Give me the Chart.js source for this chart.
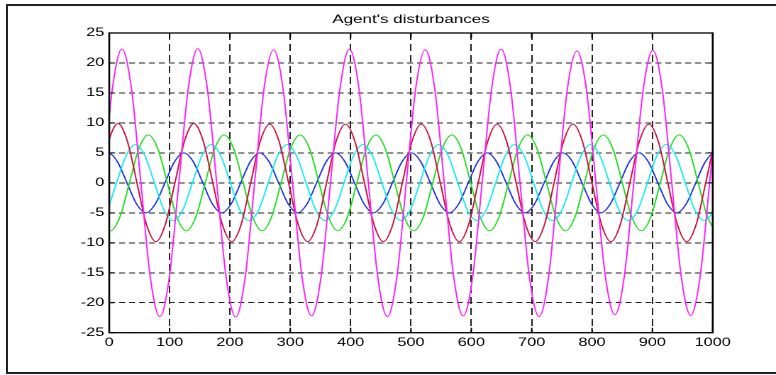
<!DOCTYPE html>
<html>
<head>
<meta charset="utf-8">
<script src="https://cdn.jsdelivr.net/npm/chart.js@4/dist/chart.umd.min.js"></script>
<style>
  html, body { margin: 0; padding: 0; background: #fff; width: 776px; height: 375px; overflow: hidden; }
  #frame { position: absolute; left: 6px; top: 4px; width: 800px; height: 370px; box-sizing: border-box; border: 2px solid #222; border-right: none; }
  #wrap { position: absolute; left: 0; top: 0; width: 547px; height: 375px; transform: scaleX(1.4186); transform-origin: 0 0; }
</style>
</head>
<body>
<div id="frame"></div>
<div id="wrap"><canvas id="chart" width="547" height="375"></canvas></div>
<script>
// points, about 1/8 of a period apart
const magentaX = [-26.1, -10.4, 5.3, 21.0, 36.7, 52.4, 68.1, 83.8, 99.5, 115.3, 131.0, 146.7, 162.4, 178.1, 193.8, 209.5, 225.2, 240.9, 256.6, 272.3, 288.0, 303.7, 319.5, 335.2, 350.9, 366.6, 382.3, 398.0, 413.7, 429.4, 445.1, 460.8, 476.5, 492.2, 507.9, 523.7, 539.4, 555.1, 570.8, 586.5, 602.2, 617.9, 633.6, 649.3, 665.0, 680.7, 696.4, 712.2, 727.9, 743.6, 759.3, 775.0, 790.7, 806.4, 822.1, 837.8, 853.5, 869.2, 884.9, 900.7, 916.4, 932.1, 947.8, 963.5, 979.2, 994.9, 1010.6, 1026.3];
const magentaY = [-15.8, 0, 15.8,
  22.3, 15.8, 0, -15.8, -22.3, -15.8, 0, 15.8,
  22.4, 15.8, 0, -15.8, -22.4, -15.8, 0, 15.8,
  22.2, 15.7, 0, -15.7, -22.2, -15.7, 0, 15.7,
  22.3, 15.8, 0, -15.8, -22.3, -15.8, 0, 15.8,
  22.2, 15.7, 0, -15.7, -22.2, -15.7, 0, 15.7,
  22.3, 15.8, 0, -15.8, -22.3, -15.8, 0, 15.8,
  22.0, 15.6, 0, -15.6, -22.0, -15.6, 0, 15.6,
  22.1, 15.6, 0, -15.6, -22.1, -15.6, 0, 15.6,
  22.3];

const redX = [-16.9, -1.2, 14.5, 30.2, 45.9, 61.6, 77.3, 93.0, 108.8, 124.5, 140.2, 155.9, 171.6, 187.3, 203.0, 218.7, 234.4, 250.1, 265.8, 281.5, 297.2, 313.0, 328.7, 344.4, 360.1, 375.8, 391.5, 407.2, 422.9, 438.6, 454.3, 470.0, 485.7, 501.5, 517.2, 532.9, 548.6, 564.3, 580.0, 595.7, 611.4, 627.1, 642.8, 658.5, 674.2, 689.9, 705.7, 721.4, 737.1, 752.8, 768.5, 784.2, 799.9, 815.6, 831.3, 847.0, 862.7, 878.4, 894.2, 909.9, 925.6, 941.3, 957.0, 972.7, 988.4, 1004.1, 1019.8];
const redY = [0, 6.9,
  9.9, 6.9, 0, -6.9, -9.8, -6.9, 0, 6.9,
  9.9, 6.9, 0, -6.9, -9.8, -6.9, 0, 6.9,
  9.8, 6.9, 0, -6.9, -9.8, -6.9, 0, 6.9,
  9.8, 6.9, 0, -6.9, -9.8, -6.9, 0, 6.9,
  9.8, 6.9, 0, -6.9, -9.8, -6.9, 0, 6.9,
  9.8, 6.9, 0, -6.9, -9.8, -6.9, 0, 6.9,
  9.8, 6.9, 0, -6.9, -9.8, -6.9, 0, 6.9,
  9.8, 6.9, 0, -6.9, -9.8, -6.9, 0, 6.9,
  9.8];

const greenX = [-29.4, -13.7, 2.0, 17.7, 33.4, 49.1, 64.8, 80.5, 96.3, 112.0, 127.7, 143.4, 159.1, 174.8, 190.5, 206.2, 221.9, 237.6, 253.3, 269.0, 284.7, 300.5, 316.2, 331.9, 347.6, 363.3, 379.0, 394.7, 410.4, 426.1, 441.8, 457.5, 473.2, 489.0, 504.7, 520.4, 536.1, 551.8, 567.5, 583.2, 598.9, 614.6, 630.3, 646.0, 661.7, 677.4, 693.2, 708.9, 724.6, 740.3, 756.0, 771.7, 787.4, 803.1, 818.8, 834.5, 850.2, 865.9, 881.7, 897.4, 913.1, 928.8, 944.5, 960.2, 975.9, 991.6, 1007.3, 1023.0];
const greenY = [0, -5.7,
  -8.0, -5.7, 0, 5.7, 8.0, 5.7, 0, -5.7,
  -8.0, -5.7, 0, 5.7, 8.0, 5.7, 0, -5.7,
  -8.0, -5.7, 0, 5.7, 8.0, 5.7, 0, -5.7,
  -8.0, -5.7, 0, 5.7, 8.0, 5.7, 0, -5.7,
  -8.0, -5.7, 0, 5.7, 8.0, 5.7, 0, -5.7,
  -8.0, -5.7, 0, 5.7, 8.0, 5.7, 0, -5.7,
  -8.0, -5.7, 0, 5.7, 8.0, 5.7, 0, -5.7,
  -8.0, -5.7, 0, 5.7, 8.0, 5.7, 0, -5.7,
  -8.0, -5.7];

const cyanX = [-19.3, -3.6, 12.1, 27.8, 43.5, 59.2, 74.9, 90.6, 106.3, 122.0, 137.8, 153.5, 169.2, 184.9, 200.6, 216.3, 232.0, 247.7, 263.4, 279.1, 294.8, 310.5, 326.2, 342.0, 357.7, 373.4, 389.1, 404.8, 420.5, 436.2, 451.9, 467.6, 483.3, 499.0, 514.7, 530.5, 546.2, 561.9, 577.6, 593.3, 609.0, 624.7, 640.4, 656.1, 671.8, 687.5, 703.2, 718.9, 734.7, 750.4, 766.1, 781.8, 797.5, 813.2, 828.9, 844.6, 860.3, 876.0, 891.7, 907.4, 923.2, 938.9, 954.6, 970.3, 986.0, 1001.7, 1017.4];
const cyanY = [-6.4, -4.5, 0, 4.5,
  6.4, 4.5, 0, -4.5, -6.3, -4.5, 0, 4.5,
  6.4, 4.5, 0, -4.5, -6.3, -4.5, 0, 4.5,
  6.4, 4.5, 0, -4.5, -6.3, -4.5, 0, 4.5,
  6.4, 4.5, 0, -4.5, -6.3, -4.5, 0, 4.5,
  6.4, 4.5, 0, -4.5, -6.3, -4.5, 0, 4.5,
  6.4, 4.5, 0, -4.5, -6.3, -4.5, 0, 4.5,
  6.4, 4.5, 0, -4.5, -6.3, -4.5, 0, 4.5,
  6.4, 4.5, 0, -4.5, -6.3, -4.5, 0];

const blueX = [-17.7, -2.0, 13.7, 29.4, 45.1, 60.8, 76.5, 92.3, 108.0, 123.7, 139.4, 155.1, 170.8, 186.5, 202.2, 217.9, 233.6, 249.3, 265.0, 280.7, 296.5, 312.2, 327.9, 343.6, 359.3, 375.0, 390.7, 406.4, 422.1, 437.8, 453.5, 469.2, 485.0, 500.7, 516.4, 532.1, 547.8, 563.5, 579.2, 594.9, 610.6, 626.3, 642.0, 657.7, 673.4, 689.2, 704.9, 720.6, 736.3, 752.0, 767.7, 783.4, 799.1, 814.8, 830.5, 846.2, 861.9, 877.7, 893.4, 909.1, 924.8, 940.5, 956.2, 971.9, 987.6, 1003.3, 1019.0];
const blueY = [3.5,
  5.0, 3.5, 0, -3.5, -5.0, -3.5, 0, 3.5,
  5.0, 3.5, 0, -3.5, -5.0, -3.5, 0, 3.5,
  5.0, 3.5, 0, -3.5, -5.0, -3.5, 0, 3.5,
  5.0, 3.5, 0, -3.5, -5.0, -3.5, 0, 3.5,
  5.0, 3.5, 0, -3.5, -5.0, -3.5, 0, 3.5,
  5.0, 3.5, 0, -3.5, -5.0, -3.5, 0, 3.5,
  5.0, 3.5, 0, -3.5, -5.0, -3.5, 0, 3.5,
  5.0, 3.5, 0, -3.5, -5.0, -3.5, 0, 3.5,
  5.0, 3.5];

const xTicks = [0, 100, 200, 300, 400, 500, 600, 700, 800, 900, 1000];
const yTicks = [-25, -20, -15, -10, -5, 0, 5, 10, 15, 20, 25];

const pts = (xs, ys) => xs.map((x, i) => ({ x: x, y: ys[i] }));
const series = (data, color) => ({
  data: data,
  borderColor: color,
  borderWidth: 1,
  pointRadius: 0,
  fill: false,
  cubicInterpolationMode: "monotone",
});

// box round the plot with inward tick marks on all four sides
const boxPlugin = {
  id: "box",
  afterDraw(chart) {
    const { ctx, chartArea: a, scales } = chart;
    ctx.save();
    ctx.strokeStyle = "#000";
    ctx.lineWidth = 1.3;
    ctx.strokeRect(a.left, a.top, a.right - a.left, a.bottom - a.top);
    ctx.lineWidth = 1;
    ctx.beginPath();
    xTicks.forEach((v) => {
      const px = scales.x.getPixelForValue(v);
      ctx.moveTo(px, a.top); ctx.lineTo(px, a.top + 5);
      ctx.moveTo(px, a.bottom); ctx.lineTo(px, a.bottom - 5);
    });
    yTicks.forEach((v) => {
      const py = scales.y.getPixelForValue(v);
      ctx.moveTo(a.left, py); ctx.lineTo(a.left + 3.5, py);
      ctx.moveTo(a.right, py); ctx.lineTo(a.right - 3.5, py);
    });
    ctx.stroke();
    ctx.restore();
  },
};

const font = { family: "'Liberation Sans', Arial, sans-serif", size: 11.5 };

new Chart(document.getElementById("chart"), {
  type: "line",
  data: {
    datasets: [
      series(pts(magentaX, magentaY), "#ff22ff"),
      series(pts(redX, redY), "#d0103a"),
      series(pts(cyanX, cyanY), "#11eeee"),
      series(pts(greenX, greenY), "#22e022"),
      series(pts(blueX, blueY), "#1a2ef0"),
    ],
  },
  options: {
    responsive: false,
    devicePixelRatio: 2,
    animation: false,
    layout: { padding: { left: 0, right: 44.6, top: 0, bottom: 0 } },
    plugins: {
      legend: { display: false },
      tooltip: { enabled: false },
      title: {
        display: true,
        fullSize: false,
        text: "Agent's disturbances",
        color: "#000",
        font: { family: "'Liberation Sans', Arial, sans-serif", size: 12, weight: "normal", lineHeight: 1.2 },
        padding: { top: 12.4, bottom: 6.2 },
      },
    },
    scales: {
      x: {
        type: "linear",
        min: 0,
        max: 1000,
        afterFit: (s) => { s.height = 42.3; },
        afterBuildTicks: (s) => { s.ticks = xTicks.map((v) => ({ value: v })); },
        ticks: { color: "#000", font: font, padding: 3, maxRotation: 0, autoSkip: false, callback: (v) => String(v) },
        grid: { color: "#222", lineWidth: 1, drawTicks: false },
        border: { display: false, dash: [7, 4] },
      },
      y: {
        min: -25,
        max: 25,
        afterFit: (s) => { s.width = 77; },
        afterBuildTicks: (s) => { s.ticks = yTicks.map((v) => ({ value: v })); },
        ticks: { color: "#000", font: font, padding: 3.5, callback: (v) => String(v) },
        grid: { color: "#222", lineWidth: 1, drawTicks: false },
        border: { display: false, dash: [4.2, 2.8] },
      },
    },
  },
  plugins: [boxPlugin],
});
</script>
</body>
</html>
